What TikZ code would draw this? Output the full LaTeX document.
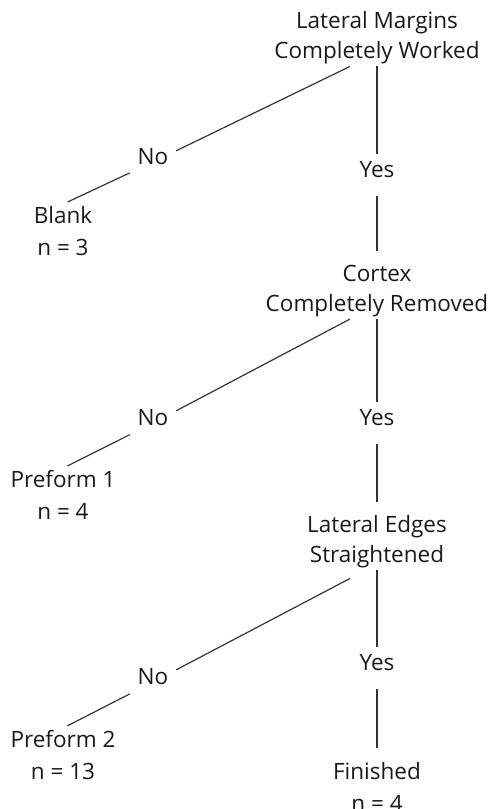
\documentclass[tikz,border=0pt]{standalone}
\usepackage{fontspec}
\setmainfont{Open Sans}
\begin{document}
\begin{tikzpicture}[x=1pt,y=-1pt,
        every node/.style={font=\fontsize{22.5}{30}\selectfont,text=black!90},
        decision/.style={align=center,inner sep=2pt},
        leaf/.style={align=center,inner sep=2pt,font=\fontsize{22.5}{32}\selectfont},
        answer/.style={anchor=base,inner sep=0pt,minimum width=46pt,text height=23pt,text depth=19pt},
        link/.style={line width=1.2pt,black!80}]
        \useasboundingbox (0,0) rectangle (491,809);
        %% questions down the right side
        \node[decision] (lm) at (377,38) {Lateral Margins\\Completely Worked};
        \node[decision] (cr) at (377,291) {Cortex\\Completely Removed};
        \node[decision] (le) at (377,542) {Lateral Edges\\Straightened};
        %% answers
        \node[answer] (yes1) at (377,177) {Yes};
        \node[answer] (no1) at (153,164) {No};
        \node[answer] (yes2) at (377,425) {Yes};
        \node[answer] (no2) at (153,425) {No};
        \node[answer] (yes3) at (377,670) {Yes};
        \node[answer] (no3) at (153,684) {No};
        %% end groups
        \node[leaf] (blank) at (63,231) {Blank\\n = 3};
        \node[leaf] (pf1) at (63,495) {Preform 1\\n = 4};
        \node[leaf] (pf2) at (63,755) {Preform 2\\n = 13};
        \node[leaf] (fin) at (377,787) {Finished\\n = 4};
        %% yes branches
        \draw[link,shorten >=12pt] (lm.south) -- (yes1) -- (cr.north);
        \draw[link,shorten >=12pt] (cr.south) -- (yes2) -- (le.north);
        \draw[link,shorten >=12pt] (le.south) -- (yes3) -- (fin.north);
        %% no branches
        \draw[link,shorten >=5pt] ([xshift=-27pt]lm.south) -- (no1) -- (blank.north);
        \draw[link,shorten >=5pt] ([xshift=-27pt]cr.south) -- (no2) -- (pf1.north);
        \draw[link,shorten >=5pt] ([xshift=-27pt,yshift=-8pt]le.south) -- (no3) -- (pf2.north);
\end{tikzpicture}
\end{document}
